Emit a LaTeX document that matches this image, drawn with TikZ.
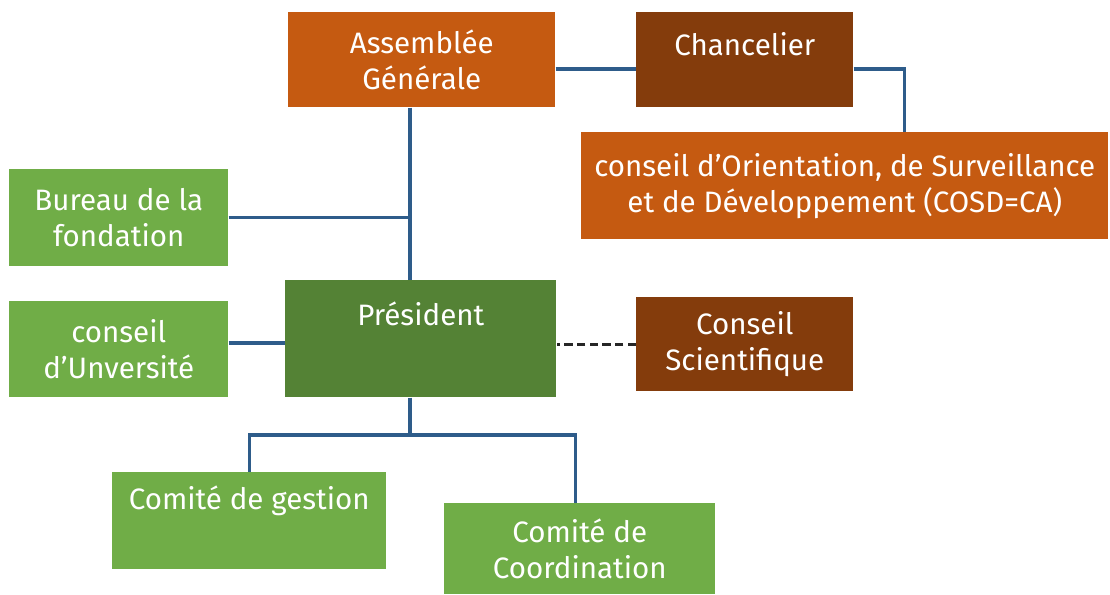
\documentclass[tikz,border=0pt]{standalone}
\usepackage{fontspec}
\setmainfont{Fira Sans}
\usetikzlibrary{positioning}

\definecolor{orgorange}{HTML}{C55A11}
\definecolor{orgbrown}{HTML}{843C0C}
\definecolor{orglight}{HTML}{70AD47}
\definecolor{orgdark}{HTML}{548235}
\definecolor{orgline}{HTML}{2E5C8A}

\tikzset{
    orgbox/.style={fill=#1, text=white, align=center, inner sep=0pt, anchor=north west,
                   font=\fontsize{21}{25.5}\selectfont},
    sized/.style 2 args={minimum width=#1*0.025cm, minimum height=#2*0.025cm},
    link/.style={draw=orgline, line width=2.2pt},
    dotlink/.style={draw=black!85, line width=2.5pt, dash pattern=on 6pt off 3pt}
}

\begin{document}
\begin{tikzpicture}[x=0.025cm, y=-0.025cm]
    \useasboundingbox (0,0) rectangle (1110,594);   % Page size (pixels)

    % Top row
    \node[orgbox=orgorange, sized={267}{95}] (ag)   at (288,12)  {Assemblée\\Générale};
    \node[orgbox=orgbrown,  sized={217}{95}] (chan) at (636,12)  {Chancelier\\[-3pt]\mbox{}};
    \node[orgbox=orgorange, sized={527}{107}] (cosd) at (581,132)
        {conseil d’Orientation, de Surveillance\\et de Développement (COSD=CA)};

    % Middle rows
    \node[orgbox=orglight, sized={219}{97}]  (bur)  at (9,169)   {Bureau de la\\fondation};
    \node[orgbox=orgdark,  sized={271}{117}] (pres) at (285,280) {Président\\[10pt]\mbox{}};
    \node[orgbox=orglight, sized={219}{96}]  (univ) at (9,301)   {conseil\\d’Unversité};
    \node[orgbox=orgbrown, sized={217}{94}]  (sci)  at (636,297) {Conseil\\Scientifique};

    % Bottom row
    \node[orgbox=orglight, sized={274}{97}] (gest)  at (112,472) {Comité de gestion\\[7pt]\mbox{}};
    \node[orgbox=orglight, sized={271}{91}] (coord) at (444,503) {Comité de\\Coordination};

    \coordinate (spine) at (410,0);   % Main vertical line
    \coordinate (fork) at (410,435);  % Split under the president
    \coordinate (topline) at (0,69);  % Height of top connectors
    \coordinate (uline) at (0,343);   % Height of univ connector

    % Connectors
    \draw[link] (ag.east |- topline) -- (chan.west |- topline);
    \draw[link] (chan.east |- topline) -| ([xshift=1.5cm]cosd.north);
    \draw[link] (ag.south -| spine) -- (pres.north -| spine);
    \draw[link] (bur.east) -- (bur.east -| spine);
    \draw[link] (univ.east |- uline) -- (pres.west |- uline);
    \draw[dotlink] (sci.west) -- (sci.west -| pres.east);
    \draw[link] (pres.south -| spine) -- (fork);
    \draw[link] (fork) -| (gest.north);
    \draw[link] (fork) -| ([xshift=-0.1cm]coord.north);
\end{tikzpicture}
\end{document}
